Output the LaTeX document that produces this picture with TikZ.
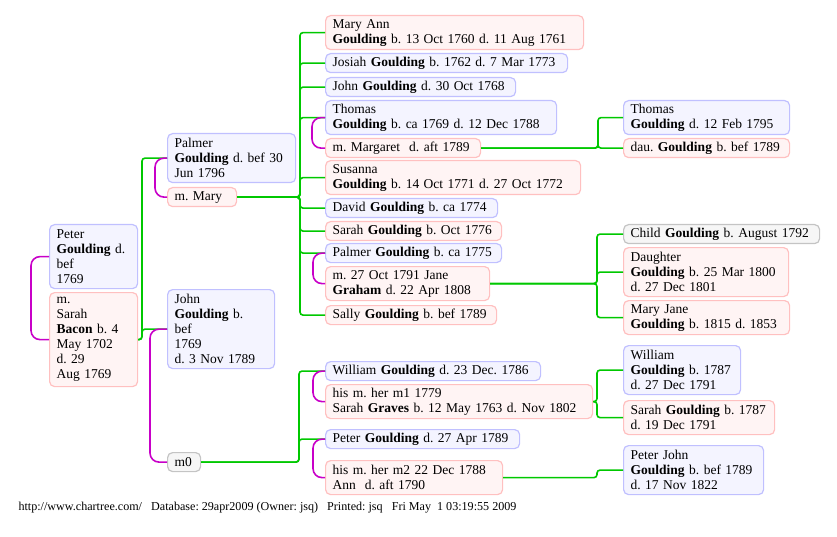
\documentclass[tikz,border=0pt]{standalone}
\usepackage{fontspec}
\setmainfont{Liberation Serif}
\usepackage{tikz}
\definecolor{mborder}{HTML}{C0C0FF}
\definecolor{mfill}{HTML}{F4F4FF}
\definecolor{fborder}{HTML}{FFC0C0}
\definecolor{ffill}{HTML}{FFF4F4}
\definecolor{uborder}{HTML}{C4C4C4}
\definecolor{ufill}{HTML}{F6F6F6}
\definecolor{kgreen}{HTML}{00C800}
\definecolor{wmagenta}{HTML}{C800C8}
\newcommand{\sname}[1]{\textbf{#1}}
\frenchspacing

\begin{document}
\begin{tikzpicture}[x=1pt, y=-1pt,
  pbox/.style={rounded corners=5pt, line width=1.2pt, anchor=north west, align=left,
    inner xsep=7pt, inner ysep=1pt, font=\fontsize{13.5}{15}\selectfont},
  male/.style={pbox, draw=mborder, fill=mfill},
  female/.style={pbox, draw=fborder, fill=ffill},
  unknown/.style={pbox, draw=uborder, fill=ufill},
  nl/.style={minimum height=#1*15pt+4pt},
  kin/.style={draw=kgreen, line width=1.6pt, rounded corners=3pt},
  wed/.style={draw=wmagenta, line width=1.6pt, rounded corners=9pt}]
  \useasboundingbox (0,0) rectangle (837,537);

  % Generation 1
  \node[male, nl=4, text width=74pt] (peter) at (49,224) {Peter\\\sname{Goulding} d.\\bef\\1769};
  \node[female, nl=6, text width=74pt] (sarah) at (49,292) {m.\\Sarah\\\sname{Bacon} b. 4\\May 1702\\d. 29\\Aug 1769};

  % Generation 2
  \node[male, nl=3, text width=114pt] (palmer) at (167,133) {Palmer\\\sname{Goulding} d. bef 30\\Jun 1796};
  \node[female, nl=1, text width=55pt] (mary) at (167,187) {m. Mary};
  \node[male, nl=5, text width=93pt] (john) at (167,289) {John\\\sname{Goulding} b.\\bef\\1769\\d. 3 Nov 1789};
  \node[unknown, nl=1, text width=19pt] (mzero) at (167,452) {m0};

  % Generation 3
  \node[female, nl=2, text width=244pt] (maryann) at (325,15) {Mary Ann\\\sname{Goulding} b. 13 Oct 1760 d. 11 Aug 1761};
  \node[male, nl=1, text width=228pt] (josiah) at (325,53) {Josiah \sname{Goulding} b. 1762 d. 7 Mar 1773};
  \node[male, nl=1, text width=176pt] (johnd) at (325,77) {John \sname{Goulding} d. 30 Oct 1768};
  \node[male, nl=2, text width=217pt] (thomas) at (325,100) {Thomas\\\sname{Goulding} b. ca 1769 d. 12 Dec 1788};
  \node[female, nl=1, text width=141pt] (margaret) at (325,138) {m. Margaret~ d. aft 1789};
  \node[female, nl=2, text width=241pt] (susanna) at (325,160) {Susanna\\\sname{Goulding} b. 14 Oct 1771 d. 27 Oct 1772};
  \node[male, nl=1, text width=158pt] (david) at (325,198) {David \sname{Goulding} b. ca 1774};
  \node[female, nl=1, text width=162pt] (sarahg) at (325,221) {Sarah \sname{Goulding} b. Oct 1776};
  \node[male, nl=1, text width=162pt] (palmerg) at (325,243) {Palmer \sname{Goulding} b. ca 1775};
  \node[female, nl=2, text width=150pt] (jane) at (325,266) {m. 27 Oct 1791 Jane\\\sname{Graham} d. 22 Apr 1808};
  \node[female, nl=1, text width=157pt] (sally) at (325,305) {Sally \sname{Goulding} b. bef 1789};
  \node[male, nl=1, text width=201pt] (william) at (325,361) {William \sname{Goulding} d. 23 Dec. 1786};
  \node[female, nl=2, text width=253pt] (graves) at (325,384) {his m. her m1 1779\\Sarah \sname{Graves} b. 12 May 1763 d. Nov 1802};
  \node[male, nl=1, text width=180pt] (peterg) at (325,429) {Peter \sname{Goulding} d. 27 Apr 1789};
  \node[female, nl=2, text width=163pt] (ann) at (325,460) {his m. her m2 22 Dec 1788\\Ann~ d. aft 1790};

  % Generation 4
  \node[male, nl=2, text width=152pt] (thomasg) at (623,100) {Thomas\\\sname{Goulding} d. 12 Feb 1795};
  \node[female, nl=1, text width=152pt] (dau) at (623,138) {dau. \sname{Goulding} b. bef 1789};
  \node[unknown, nl=1, text width=182pt] (child) at (623,224) {Child \sname{Goulding} b. August 1792};
  \node[female, nl=3, text width=151pt] (daughter) at (623,247) {Daughter\\\sname{Goulding} b. 25 Mar 1800\\d. 27 Dec 1801};
  \node[female, nl=2, text width=152pt] (maryjane) at (623,300) {Mary Jane\\\sname{Goulding} b. 1815 d. 1853};
  \node[male, nl=3, text width=103pt] (williamg) at (623,345) {William\\\sname{Goulding} b. 1787\\d. 27 Dec 1791};
  \node[female, nl=2, text width=137pt] (sarahd) at (623,400) {Sarah \sname{Goulding} b. 1787\\d. 19 Dec 1791};
  \node[male, nl=3, text width=126pt] (peterjohn) at (623,445) {Peter John\\\sname{Goulding} b. bef 1789\\d. 17 Nov 1822};

  % Bus lines to children
  \coordinate (busa) at (142,0);
  \coordinate (busb) at (300,0);
  \coordinate (busc) at (299,0);
  \coordinate (busd) at (598,0);
  \coordinate (buse) at (597,0);
  \foreach \c in {palmer,john}
    \draw[kin] (sarah.east) -| (busa |- \c.west) -- (\c.west);
  \foreach \c in {maryann,josiah,johnd,thomas,susanna,david,sarahg,palmerg,sally}
    \draw[kin] (mary.east) -| (busb |- \c.west) -- (\c.west);
  \foreach \c in {william,peterg}
    \draw[kin] (mzero.east) -| (busc |- \c.west) -- (\c.west);
  \foreach \c in {thomasg,dau}
    \draw[kin] (margaret.east) -| (busd |- \c.west) -- (\c.west);
  \foreach \c in {child,daughter,maryjane}
    \draw[kin] (jane.east) -| (buse |- \c.west) -- (\c.west);
  \foreach \c in {williamg,sarahd}
    \draw[kin] (graves.east) -| (buse |- \c.west) -- (\c.west);
  \draw[kin] (ann.east) -| (buse |- peterjohn.west) -- (peterjohn.west);

  % Marriages
  \draw[wed] (peter.west) -- ++(-18,0) |- (sarah.west);
  \draw[wed] (palmer.west) -- ++(-12,0) |- (mary.west);
  \draw[wed] (john.west) -- ++(-17,0) |- (mzero.west);
  \draw[wed] (thomas.west) -- ++(-13,0) |- (margaret.west);
  \draw[wed] (palmerg.west) -- ++(-12,0) |- (jane.west);
  \draw[wed] (william.west) -- ++(-12,0) |- (graves.west);
  \draw[wed] (peterg.west) -- ++(-12,0) |- (ann.west);

  % Footer
  \node[anchor=west, font=\fontsize{12.1}{13}\selectfont] (footer) at (15,508) {http://www.chartree.com/\ \ \ Database: 29apr2009 (Owner: jsq)\ \ \ Printed: jsq\ \ \ Fri May\ \ 1 03:19:55 2009};
\end{tikzpicture}
\end{document}
